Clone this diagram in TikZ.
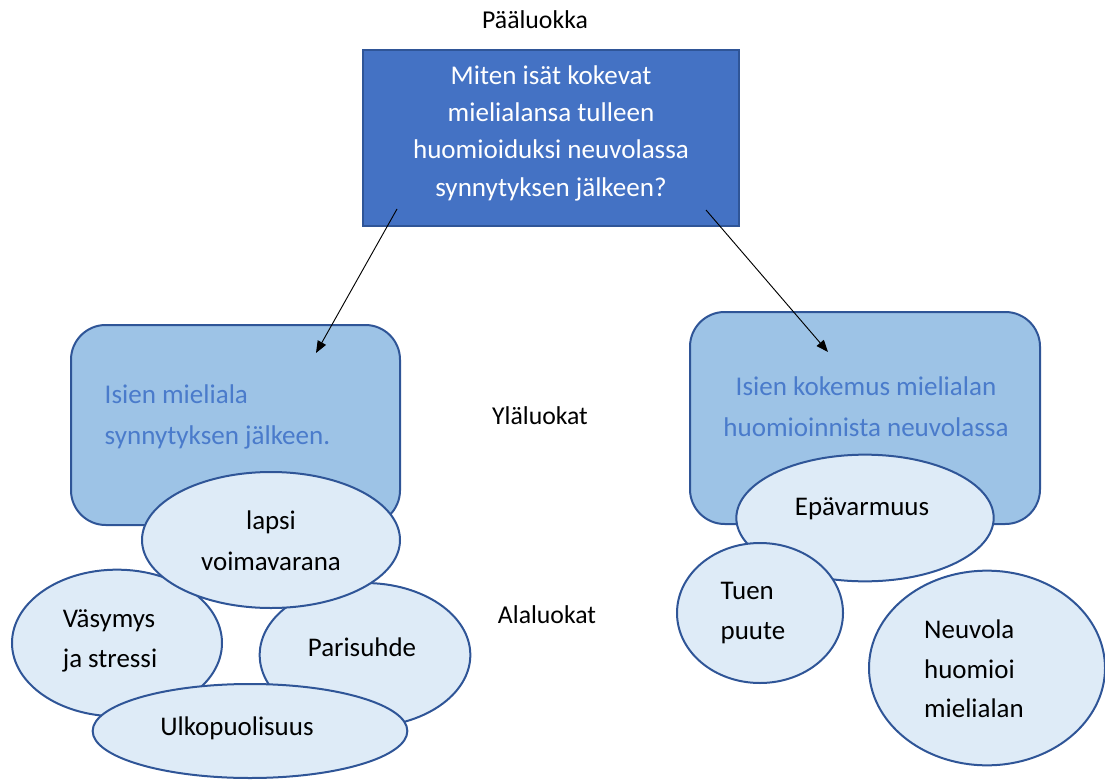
\documentclass[tikz,border=0pt]{standalone}
\usepackage{fontspec}
\setmainfont{Carlito}
\usetikzlibrary{shapes.geometric,arrows.meta}
\definecolor{mainblue}{HTML}{4472C4}
\definecolor{edgeblue}{HTML}{2F5597}
\definecolor{boxblue}{HTML}{9DC3E6}
\definecolor{ovalblue}{HTML}{DEEBF7}
\definecolor{textblue}{HTML}{4A7BCB}
\begin{document}
\begin{tikzpicture}[x=0.75pt,y=-0.75pt,
  mainbox/.style={draw=edgeblue,fill=mainblue,line width=1.5pt,
    minimum width=282pt,minimum height=132pt},
  topbox/.style={draw=edgeblue,fill=boxblue,line width=1.5pt,rounded corners=26pt},
  oval/.style={ellipse,draw=edgeblue,fill=ovalblue,line width=1.5pt,inner sep=0pt},
  ovaltext/.style={align=left,font=\fontsize{20.2}{29.5}\selectfont},
  boxtext/.style={text=textblue,font=\fontsize{20.3}{30.5}\selectfont},
  leveltext/.style={font=\fontsize{19.3}{22}\selectfont},
  link/.style={line width=0.7pt,-{Triangle[length=9pt,width=7pt]}}]
\useasboundingbox (0,0) rectangle (1105,780);
% levels
\node[leveltext] (paa) at (535,20) {Pääluokka};
\node[leveltext] (yla) at (540,416) {Yläluokat};
\node[leveltext] (ala) at (547,615) {Alaluokat};
% main class
\node[mainbox] (main) at (551,138) {};
\node[text=white,align=center,font=\fontsize{20.3}{28}\selectfont] (question) at (551,133)
  {Miten isät kokevat\\mielialansa tulleen\\huomioiduksi neuvolassa\\synnytyksen jälkeen?};
% upper classes
\node[topbox,minimum width=246.75pt,minimum height=150pt] (left) at (235.5,425) {};
\node[boxtext,align=left,anchor=west] (lefttext) at (100,417)
  {Isien mieliala\\synnytyksen jälkeen.};
\node[topbox,minimum width=262.5pt,minimum height=159pt] (right) at (865,418) {};
\node[boxtext,align=center] (righttext) at (866,407)
  {Isien kokemus mielialan\\huomioinnista neuvolassa};
% sub classes, left
\node[oval,minimum width=157.5pt,minimum height=110pt] (vasy) at (117,643) {};
\node[ovaltext] (vasytext) at (110,641) {Väsymys\\ja stressi};
\node[oval,minimum width=158pt,minimum height=108pt] (pari) at (365,655) {};
\node[ovaltext] (paritext) at (362,647) {Parisuhde};
\node[oval,minimum width=193.5pt,minimum height=102pt] (lapsi) at (271,540) {};
\node[ovaltext,align=center,font=\fontsize{20.2}{31}\selectfont] (lapsitext) at (271,541)
  {lapsi\\voimavarana};
\node[oval,minimum width=236pt,minimum height=70.5pt] (ulko) at (250,731) {};
\node[ovaltext] (ulkotext) at (237,728) {Ulkopuolisuus};
% sub classes, right
\node[oval,minimum width=193pt,minimum height=95pt] (epa) at (865,518) {};
\node[ovaltext] (epatext) at (862,509) {Epävarmuus};
\node[oval,minimum width=124.5pt,minimum height=105pt] (tuen) at (760,613) {};
\node[ovaltext] (tuentext) at (753,613) {Tuen\\puute};
\node[oval,minimum width=177pt,minimum height=146pt] (neuvola) at (987,668) {};
\node[ovaltext] (neuvolatext) at (974,669) {Neuvola\\huomioi\\mielialan};
% connectors
\coordinate (fromL) at (397,209);
\coordinate (toL) at (316,353);
\coordinate (fromR) at (706,210);
\coordinate (toR) at (828,352);
\draw[link] (fromL) -- (toL);
\draw[link] (fromR) -- (toR);
\end{tikzpicture}
\end{document}
